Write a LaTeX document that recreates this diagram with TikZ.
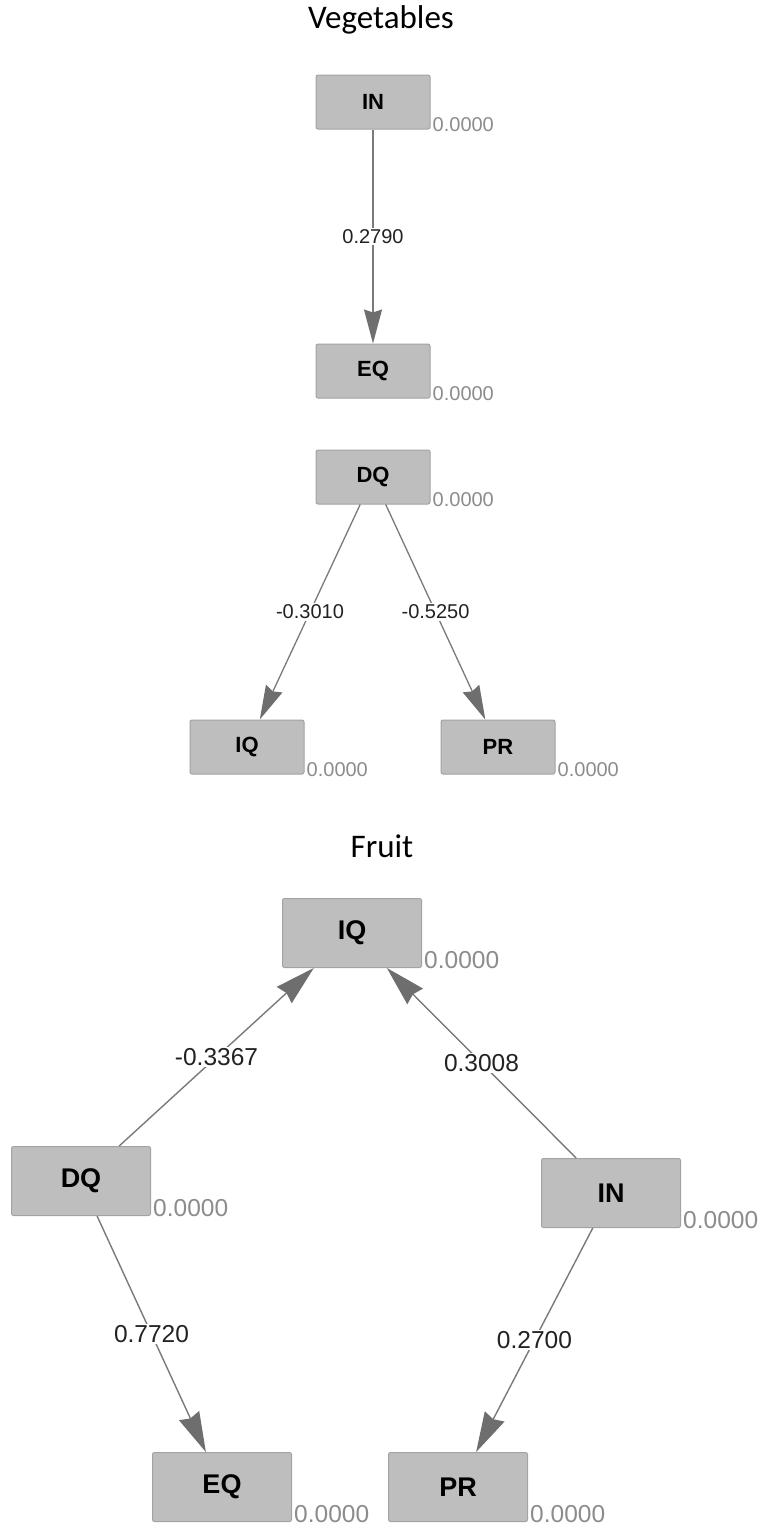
\documentclass[tikz,border=0pt]{standalone}
\usepackage{fontspec}
\setmainfont{Liberation Sans}
\newfontfamily\titlefont{Carlito}
\usetikzlibrary{arrows.meta}
\definecolor{boxfill}{HTML}{BEBEBE}
\definecolor{boxline}{HTML}{A3A3A3}
\definecolor{numgray}{HTML}{8C8C8C}
\definecolor{linegray}{HTML}{7A7A7A}
\definecolor{headgray}{HTML}{6E6E6E}
\definecolor{labtext}{HTML}{222222}
\begin{document}
\begin{tikzpicture}[x=1pt,y=-1pt,
  title/.style={font=\titlefont\fontsize{33}{36}\selectfont, inner sep=0pt, anchor=base},
  vbox/.style={draw=boxline, fill=boxfill, rounded corners=2pt, line width=1pt,
    minimum width=114pt, minimum height=54pt, inner sep=0pt,
    font=\fontsize{22}{24}\selectfont\bfseries},
  fbox/.style={draw=boxline, fill=boxfill, rounded corners=2pt, line width=1pt,
    minimum width=139pt, minimum height=69pt, inner sep=0pt,
    font=\fontsize{27}{30}\selectfont\bfseries},
  vnum/.style={anchor=base west, text=numgray, inner sep=0pt, font=\fontsize{20}{22}\selectfont},
  fnum/.style={anchor=base west, text=numgray, inner sep=0pt, font=\fontsize{24.5}{27}\selectfont},
  varr/.style={draw=linegray, line width=1.3pt,
    -{Stealth[length=34pt,width=18pt,inset=3pt,color=headgray]}},
  farr/.style={draw=linegray, line width=1.4pt,
    -{Stealth[length=40pt,width=22pt,inset=3pt,color=headgray]}},
  vlab/.style={fill=white, inner sep=1.5pt, text=labtext, font=\fontsize{20}{22}\selectfont},
  flab/.style={fill=white, inner sep=1.5pt, text=labtext, font=\fontsize{24.5}{27}\selectfont},
]
\useasboundingbox[fill=white] (0,0) rectangle (763,1527);

% ---------------- Vegetables ----------------
\node[title] (tveg) at (381,28) {Vegetables};

\node[vbox] (vIN) at (373,102) {IN};
\node[vbox] (vEQ) at (373,371) {EQ};
\node[vbox] (vDQ) at (373,477) {DQ};
\node[vbox] (vIQ) at (247,747) {IQ};
\node[vbox] (vPR) at (498,747) {PR};

\node[vnum] (nvIN) at ([xshift=2pt,yshift=-2pt]vIN.south east) {0.0000};
\node[vnum] (nvEQ) at ([xshift=2pt,yshift=-2pt]vEQ.south east) {0.0000};
\node[vnum] (nvDQ) at ([xshift=2pt,yshift=-2pt]vDQ.south east) {0.0000};
\node[vnum] (nvIQ) at ([xshift=2pt,yshift=-2pt]vIQ.south east) {0.0000};
\node[vnum] (nvPR) at ([xshift=2pt,yshift=-2pt]vPR.south east) {0.0000};

\draw[varr] (vIN) -- node[vlab] (l1) {0.2790} (vEQ);
\draw[varr] (vDQ) -- node[vlab] (l2) {-0.3010} (vIQ);
\draw[varr] (vDQ) -- node[vlab] (l3) {-0.5250} (vPR);

% ---------------- Fruit ----------------
\node[title] (tfruit) at (382,857) {Fruit};

\node[fbox] (fIQ) at (352,933) {IQ};
\node[fbox] (fDQ) at (81,1181) {DQ};
\node[fbox] (fIN) at (611,1193) {IN};
\node[fbox] (fEQ) at (222,1487) {EQ};
\node[fbox] (fPR) at (458,1487) {PR};

\node[fnum] (nfIQ) at ([xshift=2pt]fIQ.south east) {0.0000};
\node[fnum] (nfDQ) at ([xshift=2pt]fDQ.south east) {0.0000};
\node[fnum] (nfIN) at ([xshift=2pt]fIN.south east) {0.0000};
\node[fnum] (nfEQ) at ([xshift=2pt]fEQ.south east) {0.0000};
\node[fnum] (nfPR) at ([xshift=2pt]fPR.south east) {0.0000};

\draw[farr] (fDQ) -- node[flab] (l4) {-0.3367} (fIQ);
\draw[farr] (fIN) -- node[flab] (l5) {0.3008} (fIQ);
\draw[farr] (fDQ) -- node[flab] (l6) {0.7720} (fEQ);
\draw[farr] (fIN) -- node[flab] (l7) {0.2700} (fPR);
\end{tikzpicture}
\end{document}
